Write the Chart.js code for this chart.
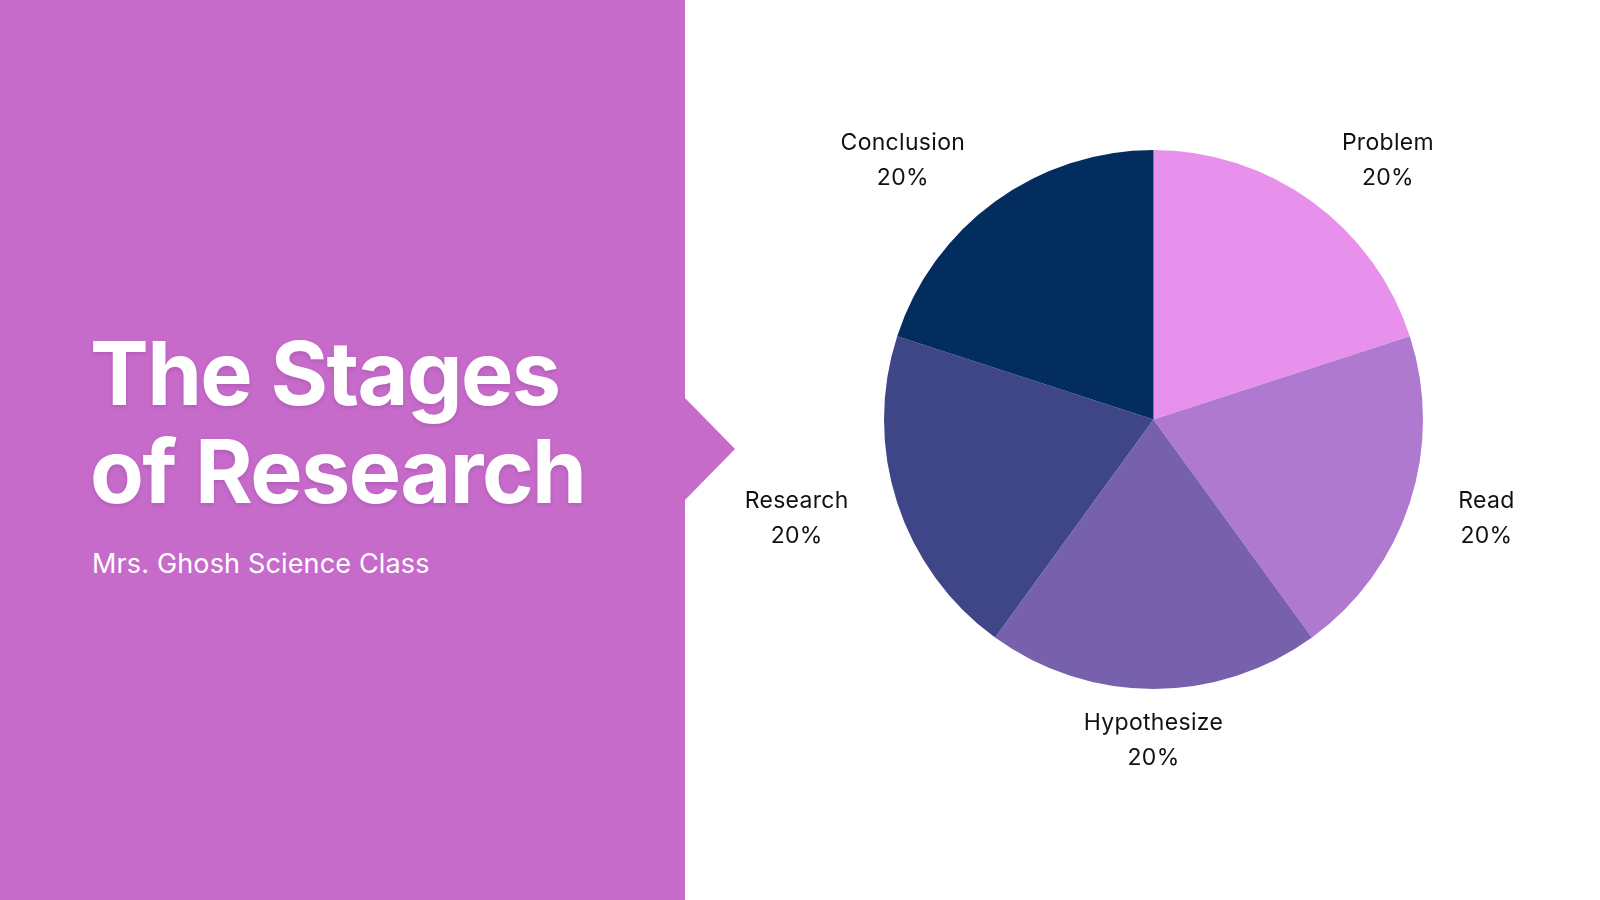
<!DOCTYPE html>
<html>
<head>
<meta charset="utf-8">
<script src="https://cdn.jsdelivr.net/npm/chart.js@4"></script>
<style>
html, body { margin:0; padding:0; }
body { width:1600px; height:900px; background:#fff; position:relative; overflow:hidden; font-family:"Inter", sans-serif; }
.panel {
    position:absolute; left:0; top:0; width:735px; height:900px;
    background:#c76bcb;
    clip-path:polygon(0 0, 685px 0, 685px 398px, 735px 449px, 685px 500px, 685px 900px, 0 900px);
}
.title {
    position:absolute; left:90px; top:324px;
    color:#fff; font-weight:700; font-size:88px; line-height:98px;
    letter-spacing:-1.6px;
    text-shadow:0 2px 4px rgba(80,20,90,0.18);
}
.subtitle {
    position:absolute; left:92px; top:550px;
    color:#fff; font-size:27px; line-height:27px; letter-spacing:0.15px;
}
.chart-box { position:absolute; left:700px; top:0; width:900px; height:900px; }
</style>
</head>
<body>
<div class="panel"></div>
<div class="title">The Stages<br>of Research</div>
<div class="subtitle">Mrs. Ghosh Science Class</div>
<div class="chart-box"><canvas id="stagesChart" width="900" height="900"></canvas></div>

<script>
const stages = ["Problem", "Read", "Hypothesize", "Research", "Conclusion"];
const shares = [20, 20, 20, 20, 20];
const sliceColors = ["#e891ec", "#ae79cf", "#7761ad", "#3e4687", "#022d5e"];

// labels outside the pie, name on top and percent below
const outerLabels = {
id: "outerLabels",
afterDatasetsDraw(chart) {
    const {ctx} = chart;
    const meta = chart.getDatasetMeta(0);
    const values = chart.data.datasets[0].data;
    const total = values.reduce((a, b) => a + b, 0);

    ctx.save();
    ctx.font = "23px Inter";
    ctx.letterSpacing = "0.3px";
    ctx.fillStyle = "#111";
    ctx.textAlign = "center";
    ctx.textBaseline = "middle";

    meta.data.forEach((arc, i) => {
        const mid = (arc.startAngle + arc.endAngle) / 2;
        const d = arc.outerRadius + 51;
        const name = chart.data.labels[i];
        const pct = Math.round(values[i] / total * 100) + "%";
        const w = Math.max(ctx.measureText(name).width, ctx.measureText(pct).width);
        const c = Math.cos(mid);
        let x = arc.x + c * d;
        if (Math.abs(c) > 0.05) x += Math.sign(c) * w / 2;
        const y = arc.y + Math.sin(mid) * d;
        ctx.fillText(name, x, y - 17);
        ctx.fillText(pct, x, y + 18);
    });
    ctx.restore();
}
};

new Chart(document.getElementById("stagesChart"), {
type: "pie",
data: {
    labels: stages,
    datasets: [{
        data: shares,
        backgroundColor: sliceColors,
        borderWidth: 0,
        hoverOffset: 0
    }]
},
options: {
    responsive: false,
    animation: false,
    layout: { padding: { left: 184, right: 177, top: 150, bottom: 211 } },
    plugins: {
        legend: { display: false },
        tooltip: { enabled: false }
    }
},
plugins: [outerLabels]
});
</script>
</body>
</html>
